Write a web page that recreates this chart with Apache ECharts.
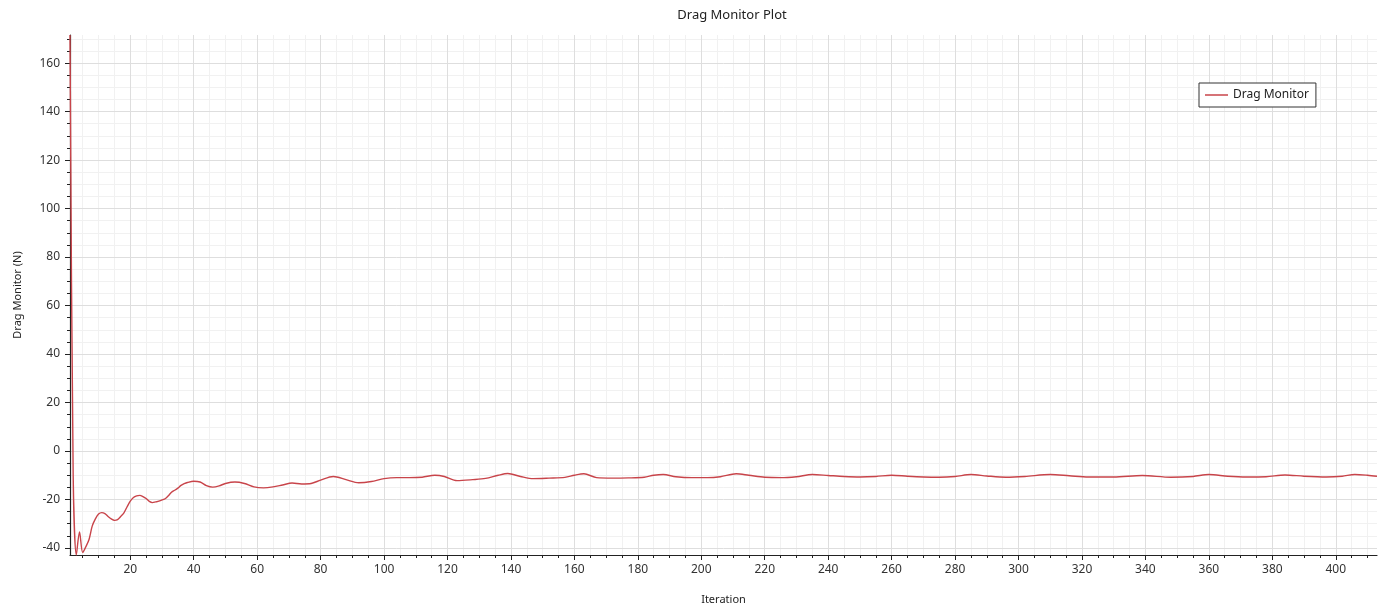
<!DOCTYPE html>
<html>
<head>
<meta charset="utf-8">
<script src="https://cdn.jsdelivr.net/npm/echarts@6/dist/echarts.min.js"></script>
<style>
  html, body { margin: 0; padding: 0; background: #fff; }
  #DragMonitorChart { width: 1381px; height: 610px; }
</style>
</head>
<body>
<div id="DragMonitorChart"></div>
<script>
// values
const iterations = [
  1, 2, 3, 4, 5, 6, 7, 8, 9, 10, 11, 12, 13, 14, 15, 16, 17, 18, 19, 20,
  21, 22, 23, 24, 25, 26, 27, 28, 29, 30, 31, 32, 33, 34, 35, 36, 37, 38, 40, 42,
  44, 46, 48, 50, 53, 56, 59, 62, 65, 68, 71, 74, 77, 80, 84, 88, 92, 96, 100, 104,
  108, 112, 116, 119, 123, 128, 132, 136, 139, 143, 147, 152, 157, 160, 163, 167, 172, 177, 182, 185,
  188, 192, 197, 202, 206, 211, 215, 220, 225, 230, 235, 240, 245, 250, 255, 260, 265, 270, 275, 280,
  285, 290, 296, 302, 310, 316, 322, 330, 339, 348, 355, 360, 366, 372, 378, 384, 390, 397, 402, 406,
  410, 413
];
const drag = [
  171.6, -10, -42.9, -33.4, -41.9, -39.5, -36.5, -31, -28, -26, -25.4, -25.8, -27, -28, -28.6, -28.3, -27, -25.5, -23, -20.7,
  -19.2, -18.5, -18.3, -18.8, -19.6, -20.8, -21.3, -21, -20.7, -20.2, -19.7, -18.5, -17, -16.2, -15.3, -14.2, -13.5, -13, -12.5, -12.8,
  -14.3, -14.9, -14.4, -13.4, -12.8, -13.4, -14.8, -15.2, -14.8, -14, -13.2, -13.6, -13.4, -12, -10.5, -11.8, -13.1, -12.6, -11.4, -11,
  -11, -10.8, -10, -10.5, -12.2, -11.8, -11.3, -10, -9.3, -10.5, -11.4, -11.2, -10.9, -10, -9.4, -11, -11.2, -11.1, -10.8, -10,
  -9.7, -10.6, -11, -11, -10.6, -9.4, -10, -10.8, -11, -10.6, -9.7, -10.1, -10.5, -10.7, -10.5, -10, -10.4, -10.7, -10.8, -10.5,
  -9.7, -10.3, -10.8, -10.5, -9.7, -10.2, -10.7, -10.7, -10.1, -10.8, -10.5, -9.7, -10.4, -10.7, -10.6, -9.9, -10.4, -10.7, -10.4, -9.7,
  -10, -10.4
];

const xTicks = [20, 40, 60, 80, 100, 120, 140, 160, 180, 200, 220, 240, 260, 280, 300, 320, 340, 360, 380, 400];
const yTicks = [-40, -20, 0, 20, 40, 60, 80, 100, 120, 140, 160];

// minor ticks every 5 units, skipping the major ones
const minorBetween = (lo, hi, major) => {
  const out = [];
  for (let v = lo; v <= hi; v += 5) if (major.indexOf(v) < 0) out.push(v);
  return out;
};
const xMinor = minorBetween(5, 410, xTicks);
const yMinor = minorBetween(-40, 170, yTicks);

const chartDom = document.getElementById("DragMonitorChart");
const myChart = echarts.init(chartDom);

const font = "'Noto Sans', 'Open Sans', sans-serif";
const xRange = { min: 1, max: 413 };
const yRange = { min: -42.9, max: 171.6 };

const option = {
  animation: false,
  backgroundColor: "#fff",
  textStyle: { fontFamily: font },
  title: {
    text: "Drag Monitor Plot",
    left: 727,
    top: 4,
    textAlign: "center",
    textStyle: { fontSize: 13, fontWeight: "normal", color: "#222", fontFamily: font },
  },
  legend: {
    data: ["Drag Monitor"],
    left: 1199,
    top: 83,
    orient: "vertical",
    padding: [6, 7, 6, 6],
    borderColor: "#333",
    borderWidth: 1,
    backgroundColor: "#fff",
    icon: "rect",
    itemWidth: 23,
    itemHeight: 1.5,
    textStyle: { fontSize: 12, color: "#222", fontFamily: font },
  },
  grid: { left: 70, right: 4, top: 35, bottom: 53 },
  xAxis: [
    {
      type: "value",
      position: "bottom",
      ...xRange,
      name: "Iteration",
      nameLocation: "middle",
      nameGap: 39,
      nameTextStyle: { fontSize: 11, color: "#222" },
      axisLine: { show: true, onZero: false, lineStyle: { color: "#222", width: 1.2 } },
      axisTick: { show: true, customValues: xTicks, length: 5, lineStyle: { color: "#222" } },
      axisLabel: { customValues: xTicks, fontSize: 12, color: "#333", margin: 9 },
      splitLine: { show: true, lineStyle: { color: "#dedede", width: 1 } },
      z: 3,
    },
    {
      type: "value",
      position: "bottom",
      ...xRange,
      axisLine: { show: false, onZero: false },
      axisTick: { show: true, customValues: xMinor, length: 3, lineStyle: { color: "#222" } },
      axisLabel: { show: false },
      splitLine: { show: true, lineStyle: { color: "#f1f1f1", width: 1 } },
      z: 2,
    },
  ],
  yAxis: [
    {
      type: "value",
      position: "left",
      ...yRange,
      name: "Drag Monitor (N)",
      nameLocation: "middle",
      nameGap: 47,
      nameTextStyle: { fontSize: 11, color: "#222" },
      axisLine: { show: true, onZero: false, lineStyle: { color: "#222", width: 1.2 } },
      axisTick: { show: true, customValues: yTicks, length: 5, lineStyle: { color: "#222" } },
      axisLabel: { customValues: yTicks, fontSize: 12, color: "#333", margin: 10 },
      splitLine: { show: true, lineStyle: { color: "#dedede", width: 1 } },
      z: 3,
    },
    {
      type: "value",
      position: "left",
      ...yRange,
      axisLine: { show: false, onZero: false },
      axisTick: { show: true, customValues: yMinor, length: 3, lineStyle: { color: "#222" } },
      axisLabel: { show: false },
      splitLine: { show: true, lineStyle: { color: "#f1f1f1", width: 1 } },
      z: 2,
    },
  ],
  series: [
    {
      name: "Drag Monitor",
      type: "line",
      xAxisIndex: 0,
      yAxisIndex: 0,
      data: iterations.map((it, i) => [it, drag[i]]),
      showSymbol: false,
      smooth: 0.3,
      clip: true,
      lineStyle: { color: "#c8444a", width: 1.4 },
      itemStyle: { color: "#c8444a" },
      z: 5,
    },
  ],
};

myChart.setOption(option);
</script>
</body>
</html>
